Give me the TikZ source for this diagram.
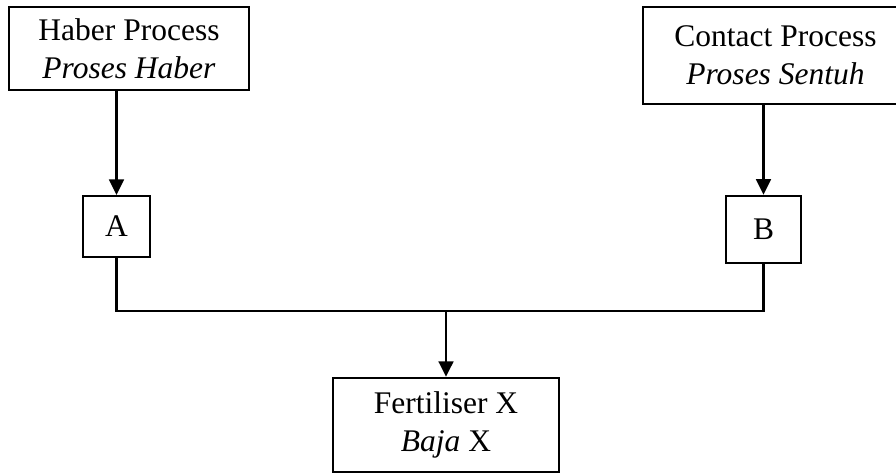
\documentclass[tikz,border=0pt]{standalone}
\usepackage{fontspec}
\setmainfont{Liberation Serif}
\usetikzlibrary{arrows.meta}

\begin{document}
\begin{tikzpicture}
[x=0.025cm,y=-0.025cm,
  boxDecorate/.style={draw,line width=1.7pt,inner sep=0pt,align=center,
    font=\fontsize{22.4}{27}\selectfont},
  lineDecorate/.style={line width=1.7pt},
  arrowDecorate/.style={line width=1.7pt,-{Triangle[length=11pt,width=10.5pt]}}]
\useasboundingbox (0,0) rectangle (896,475);
\clip (0,0) rectangle (896,475);
%% boxes
\foreach \nodename/\x/\y/\w/\h/\txt in {
  haber/129/48.5/6.0/2.08/{Haber Process\\\textit{Proses Haber}},
  contact/775.5/55.5/6.62/2.42/{Contact Process\\\textit{Proses Sentuh}},
  a/116.5/226.5/1.68/1.52/A,
  b/763.5/229.5/1.88/1.68/B,
  fert/446/425/5.65/2.35/{Fertiliser X\\\textit{Baja} X}}
{
  \node (\nodename) at (\x,\y) [boxDecorate,minimum width=\w cm,minimum height=\h cm] {\txt};
}
%% connectors
\coordinate (merge) at (446,311);
\draw[arrowDecorate] (a.north |- haber.south) -- (a.north);
\draw[arrowDecorate] (b.north |- contact.south) -- (b.north);
\draw[lineDecorate] (a.south) |- (merge) -| (b.south);
\draw[arrowDecorate] (merge) -- (fert.north);
\end{tikzpicture}
\end{document}
